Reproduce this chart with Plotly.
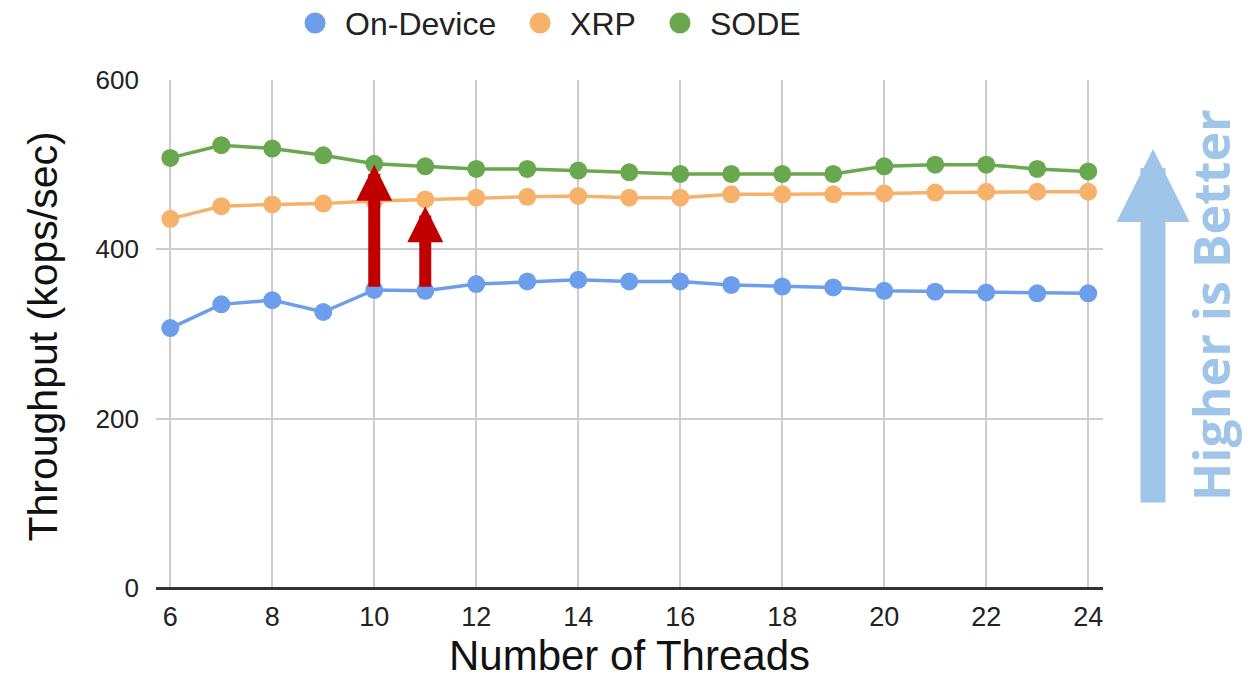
import plotly.graph_objects as go

threads = list(range(6, 25))
on_device = [307, 335, 340, 326, 352, 351, 359, 362, 364, 362, 362, 358, 356, 355, 351, 350, 349, 348, 348]
xrp = [436, 451, 453, 454, 457, 459, 461, 462, 463, 461, 461, 465, 465, 465, 466, 467, 468, 468, 468]
sode = [508, 523, 519, 511, 501, 498, 495, 495, 493, 491, 489, 489, 489, 489, 498, 500, 500, 495, 492]

series_names = ["On-Device", "XRP", "SODE"]
series_colors = ["#6d9eeb", "#f6b26b", "#6aa84f"]

arrow_x = [10, 11]
arrow_base = [354, 354]
arrow_tip = [500, 451]

y_ticks = [0, 200, 400, 600]
x_ticks = list(range(6, 25, 2))

FONT = "Liberation Sans, Arial, Helvetica, sans-serif"

legend_ids = ["legend", "legend2", "legend3"]
legend_x = [0.2284, 0.4087, 0.5208]

fig = go.Figure()
for name, vals, col in zip(series_names, [on_device, xrp, sode], series_colors):
    fig.add_trace(go.Scatter(
        x=threads, y=vals, name=name, mode="lines+markers",
        line=dict(color=col, width=3.5),
        marker=dict(color=col, size=18),
        showlegend=False,
    ))
# legend-only entries (round dots), one legend box each
for name, col, lid in zip(series_names, series_colors, legend_ids):
    fig.add_trace(go.Scatter(
        x=[None], y=[None], name=name, mode="markers",
        marker=dict(color=col, size=18, line=dict(color=col, width=6)),
        showlegend=True, legend=lid,
    ))

annotations = []
for xv, b, t in zip(arrow_x, arrow_base, arrow_tip):
    annotations.append(dict(
        x=xv, y=t, ax=xv, ay=b, xref="x", yref="y", axref="x", ayref="y",
        text="", showarrow=True, arrowhead=2, arrowsize=0.6, arrowwidth=12,
        arrowcolor="#c00000",
    ))
# "Higher is Better" arrow and text
annotations.append(dict(
    x=1.0528, y=0.864, xref="paper", yref="paper", ax=0, ay=355,
    text="", showarrow=True, arrowhead=2, arrowsize=0.584, arrowwidth=25,
    arrowcolor="#9fc5e8",
))
annotations.append(dict(
    x=1.1140, y=0.557, xref="paper", yref="paper", showarrow=False,
    text="<b>Higher is Better</b>", textangle=-90,
    font=dict(family="Open Sans, sans-serif", size=50, color="#9fc5e8"),
    xanchor="center", yanchor="middle",
))
# y-axis title
annotations.append(dict(
    x=-0.1193, y=0.495, xref="paper", yref="paper", showarrow=False,
    text="Throughput (kops/sec)", textangle=-90,
    font=dict(family=FONT, size=41, color="#111111"),
    xanchor="center", yanchor="middle",
))

legend_common = dict(
    orientation="h", xref="container", yref="paper", y=1.166,
    xanchor="left", yanchor="top",
    font=dict(family=FONT, size=32, color="#222222"),
    itemwidth=50, bgcolor="rgba(0,0,0,0)",
)
layout_legends = {}
for lid, lx in zip(legend_ids, legend_x):
    layout_legends[lid] = dict(legend_common, x=lx)

fig.update_layout(
    width=1248, height=680,
    margin=dict(l=156, r=145, t=80, b=92, autoexpand=False),
    paper_bgcolor="white", plot_bgcolor="white",
    font=dict(family=FONT, color="#222222"),
    showlegend=True,
    annotations=annotations,
    **layout_legends,
)

fig.update_xaxes(
    range=[5.72, 24.29], tickvals=x_ticks, ticktext=[str(v) for v in x_ticks],
    showgrid=True, gridcolor="#cccccc", gridwidth=1.5,
    zeroline=False, showline=False,
    tickfont=dict(family=FONT, size=27, color="#222222"),
    ticklabelstandoff=10,
    title=dict(text="Number of Threads", font=dict(family=FONT, size=42, color="#111111"), standoff=8),
    automargin=False,
)
fig.update_yaxes(
    range=[0, 600], tickvals=y_ticks, ticktext=[str(v) for v in y_ticks],
    showgrid=True, gridcolor="#cccccc", gridwidth=1.5,
    zeroline=True, zerolinecolor="#333333", zerolinewidth=2.5,
    showline=False,
    tickfont=dict(family=FONT, size=26, color="#222222"),
    ticklabelstandoff=16,
    automargin=False,
)

fig.write_html("out.html")
